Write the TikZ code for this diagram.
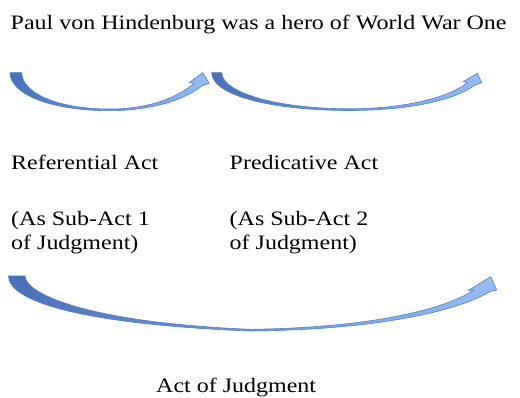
\documentclass[tikz,border=0pt]{standalone}
\usepackage{fontspec}
\setmainfont{Liberation Serif}
\definecolor{arrowdark}{RGB}{76,112,184}
\definecolor{arrowlight}{RGB}{152,188,246}
\definecolor{arrowline}{RGB}{80,128,196}
\newcommand\sx[1]{\scalebox{1.17}[1]{#1}}
\newcommand\twoline[2]{\sx{\begin{tabular}[b]{@{}l@{}}#1\\#2\end{tabular}}}
\tikzset{
  curvarrow/.style={draw=arrowline, line width=0.6pt, left color=arrowdark, right color=arrowlight, line join=round},
  lbl/.style={anchor=base west, inner sep=0pt, font=\fontsize{20.5}{24}\selectfont}
}
\begin{document}
\begin{tikzpicture}[x=1pt,y=-1pt]
\useasboundingbox (0,0) rectangle (520,398);
% texts
\node[lbl] (title) at (10.5,29.3) {\sx{Paul von Hindenburg was a hero of World War One}};
\node[lbl] (ref) at (11,170) {\sx{Referential Act}};
\node[lbl] (pred) at (229.5,170) {\sx{Predicative Act}};
\node[lbl] (sub1) at (11,250) {\twoline{(As Sub-Act 1}{of Judgment)}};
\node[lbl] (sub2) at (229.5,250) {\twoline{(As Sub-Act 2}{of Judgment)}};
\node[lbl] (judg) at (156,392.7) {\sx{Act of Judgment}};
% arrow 1
\path[curvarrow] (10,72.7) .. controls (10,94) and (50,110.7) .. (110,110.7)
  .. controls (150,110.7) and (185,100) .. (201.7,86) -- (209.3,83.3) -- (202.7,72.7)
  -- (189,82.7) -- (194,83.3) .. controls (178,97) and (150,109) .. (110,109)
  .. controls (55,109) and (22,92) .. (21.7,72.7) -- cycle;
% arrow 2
\path[curvarrow] (211.7,72.7) .. controls (211.7,95) and (270,110.5) .. (350,110.5)
  .. controls (410,110.5) and (455,100) .. (475,85) -- (481.7,82.7) -- (477.3,73.3)
  -- (463.3,81.7) -- (467.5,82.5) .. controls (450,97) and (405,108.8) .. (350,108.8)
  .. controls (275,108.8) and (222,92) .. (221.7,72.7) -- cycle;
% arrow 3
\path[curvarrow] (8.5,276) .. controls (8.5,300) and (75,324) .. (250,331)
  .. controls (380,330) and (460,310) .. (490,291.5) -- (496.7,290) -- (490.7,276.7)
  -- (468.3,290.5) -- (474,290) .. controls (440,312) and (360,328) .. (250,329.3)
  .. controls (80,322) and (25,292) .. (25,276) -- cycle;
\end{tikzpicture}
\end{document}
